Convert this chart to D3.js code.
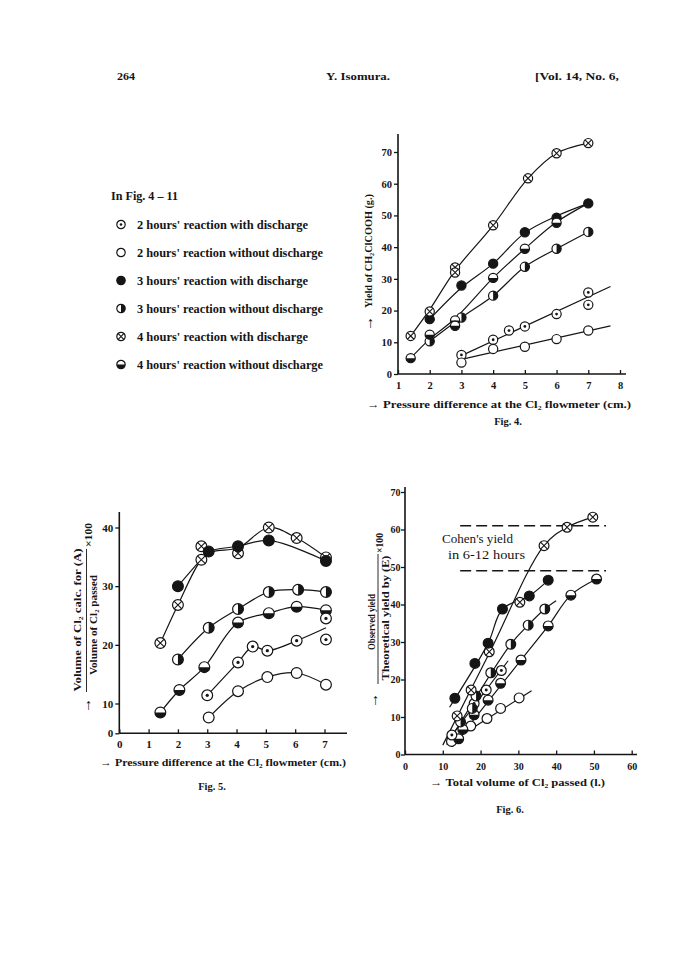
<!DOCTYPE html>
<html><head><meta charset="utf-8">
<script src="https://cdn.jsdelivr.net/npm/d3@7"></script>
<style>
body{margin:0;background:#fff}
svg{display:block}
text{font-family:"Liberation Serif","Times New Roman",serif;fill:#151515}
</style>
</head><body>
<svg id="page" width="688" height="971"></svg>
<script>
// ---------------- DATA ----------------
const headerTexts = ["264", "Y. Isomura.", "[Vol. 14, No. 6,"];
const legendTitle = "In Fig. 4 \u2013 11";
const legendLabels = [
  "2 hours' reaction with discharge",
  "2 hours' reaction without discharge",
  "3 hours' reaction with discharge",
  "3 hours' reaction without discharge",
  "4 hours' reaction with discharge",
  "4 hours' reaction without discharge"
];
const legendTypes = ["dot", "open", "filled", "halfRight", "cross", "halfBottom"];

// Fig. 4
const fig4XTicks = [1, 2, 3, 4, 5, 6, 7, 8];
const fig4YTicks = [0, 10, 20, 30, 40, 50, 60, 70];
const fig4DotPts = [[3,6],[4,10.8],[4.5,13.7],[5,15],[6,18.9],[7,25.7],[7,21.8]];
const fig4DotLine = [[3,5.8],[7.7,27.6]];
const fig4OpenPts = [[3,3.6],[4,7.9],[5,8.6],[6,11],[7,13.7]];
const fig4OpenLine = [[3,4.6],[7.7,15.2]];
const fig4FilledPts = [[2,17.3],[3,27.9],[4,34.8],[5,44.7],[6,49.3],[7,53.8]];
const fig4FilledLine = [[2,17.3],[3,27.2],[4,34.8],[5,44.5],[6,49.8],[7,53.8]];
const fig4HalfRPts = [[2,10.3],[3,17.8],[4,24.7],[5,33.8],[6,39.5],[7,44.8]];
const fig4HalfRLine = [[2,10.3],[3,17.8],[4,24.7],[5,33.8],[6,39.5],[7,44.8]];
const fig4CrossPts = [[1.4,12],[2,19.7],[2.8,33.6],[2.8,32],[4,46.9],[5.1,61.7],[6,69.6],[7,72.8]];
const fig4CrossLine = [[1.4,12],[2,20.3],[2.8,32.6],[4,46.9],[5.1,61.7],[6,69.6],[7,72.8]];
const fig4HalfBPts = [[1.4,5],[2,12.4],[2.8,16.9],[2.8,15.2],[4,30.3],[5,39.5],[6,47.7]];
const fig4HalfBLine = [[1.4,5],[2,11],[2.8,17.5],[4,30.3],[5,39.5],[6,47.9],[7,53.8]];
const fig4XTitle = "\u2192 Pressure difference at the Cl\u2082 flowmeter (cm.)";
const fig4YTitle = "Yield of CH\u2082ClCOOH (g.)";
const fig4Caption = "Fig. 4.";

// Fig. 5
const fig5XTicks = [0, 1, 2, 3, 4, 5, 6, 7];
const fig5YTicks = [0, 10, 20, 30, 40];
const fig5CrossPts = [[1.4,20.3],[2,26.8],[2.8,34.5],[2.8,36.8],[4.05,35.6],[5.1,40],[6.05,38.2],[7.05,34.9]];
const fig5CrossLine = [[1.4,20.3],[2,26.8],[2.8,34.5],[3.2,35.9],[4.05,36.5],[5.1,40],[6.05,38.2],[7.05,34.9]];
const fig5FilledPts = [[2,30],[3.05,35.9],[4.05,36.8],[5.1,37.8],[7.05,34.3]];
const fig5FilledLine = [[2,30],[2.8,34.6],[3.05,35.9],[4.05,36.8],[5.1,37.8],[7.05,34.3]];
const fig5HalfRPts = [[2,17.5],[3.05,22.9],[4.05,26.1],[5.1,29],[6.1,29.4],[7.05,29]];
const fig5HalfBPts = [[1.4,7],[2.05,12.3],[2.9,16.2],[4.05,23.8],[5.1,25.4],[6.05,26.5],[7.05,25.9]];
const fig5DotPts = [[3,11.4],[4.05,17],[4.55,19.7],[5.05,19],[6.05,20.7],[7.05,20.9],[7.05,24.5]];
const fig5DotLine = [[3,11.4],[4.05,17],[4.55,19.7],[5.05,19],[6.05,20.7],[7.05,22.9]];
const fig5OpenPts = [[3.05,5.3],[4.05,12.1],[5.05,14.5],[6.05,15.2],[7.05,13.2]];
const fig5XTitle = "\u2192 Pressure difference at the Cl\u2082 flowmeter (cm.)";
const fig5YNum = "Volume of Cl\u2082 calc. for (A)";
const fig5YDen = "Volume of Cl\u2082 passed";
const fig5Caption = "Fig. 5.";

// Fig. 6
const fig6XTicks = [0, 10, 20, 30, 40, 50, 60];
const fig6YTicks = [0, 10, 20, 30, 40, 50, 60, 70];
const fig6CrossPts = [[13.8,10.3],[17.5,17.2],[22.3,27.4],[30.4,40.6],[36.8,55.7],[42.9,60.6],[49.7,63.3]];
const fig6CrossLine = [[10,2.5],[22.3,27],[36.8,55.7],[42.9,60.6],[49.7,63.3]];
const fig6FilledPts = [[13.2,15],[18.5,24.3],[22,29.7],[25.8,38.8],[32.9,42.3],[37.9,46.5]];
const fig6FilledLine = [[11.8,12.6],[22,29.7],[25.8,38.8],[32.9,42.3],[37.9,46.5]];
const fig6HalfRPts = [[14.7,8.7],[17.8,12.3],[18.8,15.6],[22.7,21.8],[28,29.4],[32.6,34.5],[37,38.8]];
const fig6HalfRLine = [[13.5,6.5],[28,29.4],[32.6,34.5],[37,38.8],[40,41]];
const fig6DotPts = [[12.4,5.2],[18.3,13.6],[21.5,17.2],[25.5,22.4]];
const fig6DotLine = [[11.3,3.7],[27.3,25]];
const fig6HalfBPts = [[14.2,4.2],[15.3,6.7],[18.3,10.6],[22,14.5],[25.3,19],[30.7,25.2],[37.9,34.3],[43.9,42.5],[50.7,46.8]];
const fig6HalfBLine = [[12.5,2],[30.7,25.2],[37.9,34.3],[43.9,42.5],[50.7,46.8]];
const fig6OpenPts = [[12.3,3.5],[17.4,7.6],[21.7,9.6],[25.3,12.3],[30.2,15.1]];
const fig6OpenLine = [[11,2.7],[33.5,17]];
const cohenLevels = [61, 49];
const cohenRange = [14.6, 53.2];
const cohenText = ["Cohen's yield", "in 6-12 hours"];
const fig6XTitle = "\u2192 Total volume of Cl\u2082 passed (l.)";
const fig6YNum = "Observed yield";
const fig6YDen = "Theoretical yield by (E)";
const fig6Caption = "Fig. 6.";

// ---------------- DRAWING ----------------
const svg = d3.select("#page");
const INK = "#151515";

function drawSymbol(g, type, r) {
  const filled = type === "filled";
  g.append("circle").attr("r", r)
    .attr("fill", filled ? INK : "#fff")
    .attr("stroke", INK).attr("stroke-width", 1.2);
  if (type === "dot") {
    g.append("circle").attr("r", Math.max(1.2, r * 0.3)).attr("fill", INK);
  } else if (type === "cross") {
    const k = r * 0.72;
    g.append("path").attr("d", `M${-k},${-k}L${k},${k}M${-k},${k}L${k},${-k}`)
      .attr("stroke", INK).attr("stroke-width", 1.1);
  } else if (type === "halfRight") {
    g.append("path").attr("d", `M0,${-r}A${r},${r} 0 0 1 0,${r}Z`).attr("fill", INK);
  } else if (type === "halfBottom") {
    g.append("path").attr("d", `M${-r},0A${r},${r} 0 0 0 ${r},0Z`).attr("fill", INK);
  }
}

function plotPoints(g, x, y, pts, type, r) {
  g.append("g").selectAll("g").data(pts).join("g")
    .attr("transform", d => `translate(${x(d[0])},${y(d[1])})`)
    .each(function () { drawSymbol(d3.select(this), type, r); });
}
function plotLine(g, x, y, pts, curved) {
  const line = d3.line().x(d => x(d[0])).y(d => y(d[1]))
    .curve(curved ? d3.curveCatmullRom.alpha(0.5) : d3.curveLinear);
  g.append("path").datum(pts).attr("d", line)
    .attr("fill", "none").attr("stroke", INK).attr("stroke-width", 1.2);
}

function axes(g, x, y, xTicks, yTicks, xEnd, yTop, fs, xLabDy, yLabDx) {
  const x0 = x.range()[0], y0 = y(yTicks[0]);
  const ax = d3.axisBottom(x).tickValues(xTicks).tickSizeInner(-4).tickSizeOuter(0).tickFormat(d3.format("d"));
  const gx = g.append("g").attr("transform", `translate(0,${y0})`).call(ax);
  gx.select(".domain").remove();
  gx.selectAll("line").attr("stroke", INK).attr("stroke-width", 1.3);
  gx.selectAll("text").attr("y", xLabDy).attr("font-size", fs).attr("font-weight", "bold").attr("fill", INK);
  const ay = d3.axisLeft(y).tickValues(yTicks).tickSizeInner(4).tickSizeOuter(0).tickFormat(d3.format("d"));
  const gy = g.append("g").attr("transform", `translate(${x0},0)`).call(ay);
  gy.select(".domain").remove();
  gy.selectAll("line").attr("stroke", INK).attr("stroke-width", 1.3);
  gy.selectAll("text").attr("x", -yLabDx).attr("font-size", fs).attr("font-weight", "bold").attr("fill", INK);
  g.append("line").attr("x1", x0).attr("x2", xEnd).attr("y1", y0).attr("y2", y0).attr("stroke", INK).attr("stroke-width", 1.6);
  g.append("line").attr("x1", x0).attr("x2", x0).attr("y1", y0).attr("y2", yTop).attr("stroke", INK).attr("stroke-width", 1.6);
}

function txt(x, y, s, opts = {}) {
  const t = svg.append("text").attr("x", x).attr("y", y).text(s)
    .attr("font-size", opts.fs || 11).attr("font-weight", opts.fw || "bold")
    .attr("text-anchor", opts.anchor || "start");
  if (opts.len) t.attr("textLength", opts.len).attr("lengthAdjust", "spacingAndGlyphs");
  if (opts.rot) t.attr("transform", `rotate(${opts.rot},${x},${y})`);
  if (opts.family) t.style("font-family", opts.family);
  return t;
}

// Header
txt(117, 80, headerTexts[0], {fs: 10.5, len: 18});
txt(358, 80, headerTexts[1], {fs: 11, anchor: "middle", len: 64});
txt(535, 80, headerTexts[2], {fs: 11, len: 84});

// Legend
txt(111, 200, legendTitle, {fs: 11.5, len: 67});
legendLabels.forEach((lab, i) => {
  const yy = 224.5 + i * 28;
  drawSymbol(svg.append("g").attr("transform", `translate(121,${yy})`), legendTypes[i], 4.2);
  txt(137, yy + 4, lab, {fs: 12, len: lab.includes("without") ? 186 : 171});
});

// ---- Fig. 4 ----
{
  const g = svg.append("g");
  const x = d3.scaleLinear().domain([1, 8]).range([398, 620]);
  const y = d3.scaleLinear().domain([0, 70]).range([374, 152]);
  axes(g, x, y, fig4XTicks, fig4YTicks, 626, 134, 10.5, 8, 6);
  plotLine(g, x, y, fig4DotLine, false);
  plotLine(g, x, y, fig4OpenLine, false);
  plotLine(g, x, y, fig4FilledLine, true);
  plotLine(g, x, y, fig4HalfRLine, true);
  plotLine(g, x, y, fig4CrossLine, true);
  plotLine(g, x, y, fig4HalfBLine, true);
  const r = 4.6;
  plotPoints(g, x, y, fig4DotPts, "dot", r);
  plotPoints(g, x, y, fig4OpenPts, "open", r);
  plotPoints(g, x, y, fig4FilledPts, "filled", r);
  plotPoints(g, x, y, fig4HalfRPts, "halfRight", r);
  plotPoints(g, x, y, fig4CrossPts, "cross", r);
  plotPoints(g, x, y, fig4HalfBPts, "halfBottom", r);
  txt(367, 408, fig4XTitle, {fs: 11, len: 264});
  txt(508, 425, fig4Caption, {fs: 10.5, anchor: "middle"});
  txt(372, 308, fig4YTitle, {fs: 11, rot: -90, len: 114});
  txt(373, 331, "\u2192", {fs: 15, rot: -90});
}

// ---- Fig. 5 ----
{
  const g = svg.append("g");
  const x = d3.scaleLinear().domain([0, 7]).range([119.3, 324.5]);
  const y = d3.scaleLinear().domain([0, 10, 40]).range([733.3, 703.5, 527.5]);
  axes(g, x, y, fig5XTicks, fig5YTicks, 347, 512, 11, 7, 6);
  plotLine(g, x, y, fig5CrossLine, true);
  plotLine(g, x, y, fig5FilledLine, true);
  plotLine(g, x, y, fig5HalfRPts, true);
  plotLine(g, x, y, fig5HalfBPts, true);
  plotLine(g, x, y, fig5DotLine, true);
  plotLine(g, x, y, fig5OpenPts, true);
  const r = 5.4;
  plotPoints(g, x, y, fig5CrossPts, "cross", r);
  plotPoints(g, x, y, fig5FilledPts, "filled", r);
  plotPoints(g, x, y, fig5HalfRPts, "halfRight", r);
  plotPoints(g, x, y, fig5HalfBPts, "halfBottom", r);
  plotPoints(g, x, y, fig5DotPts, "dot", r);
  plotPoints(g, x, y, fig5OpenPts, "open", r);
  txt(100, 766, fig5XTitle, {fs: 11, len: 246});
  txt(212, 790, fig5Caption, {fs: 10.5, anchor: "middle"});
  // y title fraction
  txt(81, 620, fig5YNum, {fs: 11, rot: -90, anchor: "middle", len: 143});
  g.append("line").attr("x1", 86.5).attr("x2", 86.5).attr("y1", 549).attr("y2", 692).attr("stroke", INK).attr("stroke-width", 0.9);
  txt(97, 625, fig5YDen, {fs: 11, rot: -90, anchor: "middle", len: 100});
  txt(92, 547, "\u00d7100", {fs: 10, rot: -90, len: 24});
  txt(91, 713, "\u2192", {fs: 15, rot: -90});
}

// ---- Fig. 6 ----
{
  const g = svg.append("g");
  const x = d3.scaleLinear().domain([0, 60]).range([405, 631.7]);
  const y = d3.scaleLinear().domain([0, 70]).range([754.5, 492]);
  axes(g, x, y, fig6XTicks, fig6YTicks, 637, 487, 10, 8, 4.5);
  g.selectAll(".cohen").data(cohenLevels).join("line")
    .attr("x1", x(cohenRange[0])).attr("x2", x(cohenRange[1]))
    .attr("y1", d => y(d)).attr("y2", d => y(d))
    .attr("stroke", INK).attr("stroke-width", 1.3).attr("stroke-dasharray", "11,5");
  txt(442, 543, cohenText[0], {fs: 12, fw: "normal", len: 71});
  txt(448, 559, cohenText[1], {fs: 12, fw: "normal", len: 77});
  plotLine(g, x, y, fig6CrossLine, true);
  plotLine(g, x, y, fig6FilledLine, true);
  plotLine(g, x, y, fig6HalfRLine, true);
  plotLine(g, x, y, fig6DotLine, false);
  plotLine(g, x, y, fig6HalfBLine, true);
  plotLine(g, x, y, fig6OpenLine, false);
  const r = 4.9;
  plotPoints(g, x, y, fig6OpenPts, "open", r);
  plotPoints(g, x, y, fig6HalfBPts, "halfBottom", r);
  plotPoints(g, x, y, fig6DotPts, "dot", r);
  plotPoints(g, x, y, fig6HalfRPts, "halfRight", r);
  plotPoints(g, x, y, fig6CrossPts, "cross", r);
  plotPoints(g, x, y, fig6FilledPts, "filled", r);
  txt(430, 786, fig6XTitle, {fs: 11, len: 175});
  txt(510, 813, fig6Caption, {fs: 10.5, anchor: "middle"});
  txt(375, 622, fig6YNum, {fs: 10.5, rot: -90, anchor: "middle", len: 56});
  g.append("line").attr("x1", 378).attr("x2", 378).attr("y1", 554).attr("y2", 684).attr("stroke", INK).attr("stroke-width", 0.9);
  txt(388.5, 618, fig6YDen, {fs: 10, rot: -90, anchor: "middle", len: 125});
  txt(383, 553, "\u00d7100", {fs: 9.5, rot: -90, len: 20});
  txt(378, 708, "\u2192", {fs: 15, rot: -90});
}
</script>
</body></html>
